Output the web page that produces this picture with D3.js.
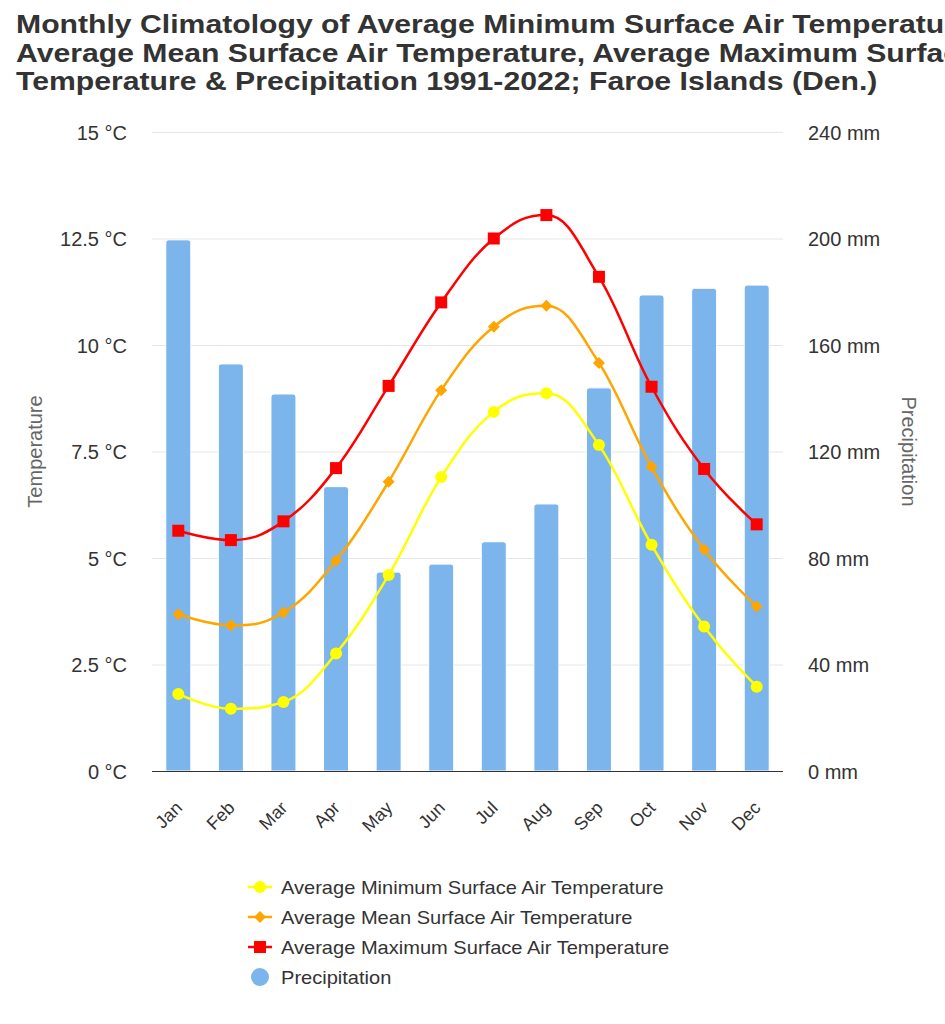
<!DOCTYPE html>
<html><head><meta charset="utf-8">
<script src="https://cdn.jsdelivr.net/npm/d3@7"></script>
<style>body{margin:0;background:#fff;} svg{display:block;font-family:"Liberation Sans",Arial,sans-serif;}</style>
</head><body>
<svg id="chart" width="945" height="1024"></svg>
<script>
const months = ["Jan","Feb","Mar","Apr","May","Jun","Jul","Aug","Sep","Oct","Nov","Dec"];
const tMin = [1.81,1.46,1.62,2.76,4.60,6.90,8.43,8.87,7.65,5.31,3.39,1.98];
const tMean = [3.68,3.42,3.72,4.94,6.79,8.94,10.43,10.92,9.58,7.14,5.20,3.86];
const tMax = [5.64,5.42,5.86,7.11,9.04,11.00,12.50,13.05,11.60,9.02,7.09,5.79];
const precip = [199.5,152.9,141.6,106.8,74.7,77.7,86.1,100.3,143.9,178.8,181.3,182.5];
const tempTicks = [0,2.5,5,7.5,10,12.5,15];
const precTicks = [0,40,80,120,160,200,240];
const titleLines = ["Monthly Climatology of Average Minimum Surface Air Temperature,",
  "Average Mean Surface Air Temperature, Average Maximum Surface Air",
  "Temperature & Precipitation 1991-2022; Faroe Islands (Den.)"];
const seriesNames = ["Average Minimum Surface Air Temperature","Average Mean Surface Air Temperature","Average Maximum Surface Air Temperature","Precipitation"];

const svg = d3.select("#chart");
const L = 152, R = 783, T = 132, B = 771;
const x = d3.scaleBand().domain(months).range([L, R]);
const yT = d3.scaleLinear().domain([0,15]).range([B, T]);
const yP = d3.scaleLinear().domain([0,240]).range([B, T]);

// title (horizontally scaled to match reference width)
const tt = svg.append("g").selectAll("text").data(titleLines).join("text")
  .attr("font-size", 26).attr("font-weight", "bold").attr("fill", "#333").text(d=>d);
const w3 = tt.nodes()[2].getComputedTextLength();
const sxT = 862 / w3;
tt.attr("transform", (d,i)=>`translate(16,${33 + i*28.7}) scale(${sxT},1)`);

// grid
svg.append("g").selectAll("line").data(tempTicks.slice(1)).join("line")
  .attr("x1", L).attr("x2", R).attr("y1", d=>yT(d)+0.5).attr("y2", d=>yT(d)+0.5)
  .attr("stroke", "#e6e6e6").attr("stroke-width", 1);

// left axis labels
const gl = svg.append("g").attr("transform", `translate(${L-25},0)`)
  .call(d3.axisLeft(yT).tickValues(tempTicks).tickSize(0).tickFormat(d=>d+" °C"));
gl.select(".domain").remove();
gl.selectAll("text").attr("font-size", 20).attr("fill", "#333").attr("font-family","Liberation Sans,Arial,sans-serif").attr("dy","0.35em").attr("x",0);

const gr = svg.append("g").attr("transform", `translate(808,0)`)
  .call(d3.axisRight(yP).tickValues(precTicks).tickSize(0).tickFormat(d=>d+" mm"));
gr.select(".domain").remove();
gr.selectAll("text").attr("font-size", 20).attr("fill", "#333").attr("font-family","Liberation Sans,Arial,sans-serif").attr("dy","0.35em").attr("x",0);

// axis titles
svg.append("text").attr("transform", `translate(42,${(T+B)/2}) rotate(-90)`)
  .attr("text-anchor","middle").attr("font-size",20).attr("fill","#666").text("Temperature");
svg.append("text").attr("transform", `translate(902,${(T+B)/2}) rotate(90)`)
  .attr("text-anchor","middle").attr("font-size",20).attr("fill","#666").text("Precipitation");

// bars with rounded top
const bw = 25, rr = 3;
svg.append("g").selectAll("path").data(precip).join("path")
  .attr("d", (d,i)=>{
    const cx = x(months[i]) + x.bandwidth()/2, x0 = cx - bw/2, x1 = cx + bw/2, y0 = yP(d), yb = B;
    const p = d3.path();
    p.moveTo(x0, yb); p.lineTo(x0, y0+rr); p.quadraticCurveTo(x0, y0, x0+rr, y0);
    p.lineTo(x1-rr, y0); p.quadraticCurveTo(x1, y0, x1, y0+rr); p.lineTo(x1, yb); p.closePath();
    return p.toString();
  })
  .attr("fill", "#7cb5ec").attr("stroke","#fff").attr("stroke-width",1);

// x axis baseline
svg.append("line").attr("x1", L).attr("x2", R).attr("y1", B+0.5).attr("y2", B+0.5)
  .attr("stroke", "#333").attr("stroke-width", 1);

// x labels
const gx = svg.append("g").attr("transform", `translate(0,${B})`)
  .call(d3.axisBottom(x).tickSize(0));
gx.select(".domain").remove();
gx.selectAll("text").attr("font-size", 18).attr("fill", "#333").attr("font-family","Liberation Sans,Arial,sans-serif")
  .attr("text-anchor","end").attr("dy",0).attr("y",0)
  .attr("transform","translate(5,38) rotate(-45)");

// highcharts-like spline
function spline(pts){
  const p = d3.path();
  const rc = [];
  pts.forEach((pt,i)=>{
    const [px,py] = pt;
    let lcx = px, lcy = py, rcx, rcy;
    const last = pts[i-1], next = pts[i+1];
    if (last && next){
      const sm = 1.5, den = 2.5;
      lcx = (sm*px + last[0])/den; lcy = (sm*py + last[1])/den;
      rcx = (sm*px + next[0])/den; rcy = (sm*py + next[1])/den;
      const corr = ((rcy - lcy)*(rcx - px))/(rcx - lcx) + py - rcy;
      lcy += corr; rcy += corr;
      if (lcy > last[1] && lcy > py){ lcy = Math.max(last[1],py); rcy = 2*py - lcy; }
      else if (lcy < last[1] && lcy < py){ lcy = Math.min(last[1],py); rcy = 2*py - lcy; }
      if (rcy > next[1] && rcy > py){ rcy = Math.max(next[1],py); lcy = 2*py - rcy; }
      else if (rcy < next[1] && rcy < py){ rcy = Math.min(next[1],py); lcy = 2*py - rcy; }
      rc[i] = [rcx, rcy];
    }
    if (i===0) p.moveTo(px,py);
    else {
      const lr = rc[i-1] || last;
      p.bezierCurveTo(lr[0], lr[1], lcx, lcy, px, py);
    }
  });
  return p.toString();
}

const series = [
  {vals:tMin, color:"#ffff00", sym:"circle"},
  {vals:tMean, color:"#ffa500", sym:"diamond"},
  {vals:tMax, color:"#ff0000", sym:"square"}
];
function marker(g, sym, cx, cy, color){
  if (sym==="circle") g.append("circle").attr("cx",cx).attr("cy",cy).attr("r",6).attr("fill",color);
  else if (sym==="square") g.append("rect").attr("x",cx-6).attr("y",cy-6).attr("width",12).attr("height",12).attr("fill",color);
  else g.append("path").attr("d",`M${cx},${cy-6}L${cx+6},${cy}L${cx},${cy+6}L${cx-6},${cy}Z`).attr("fill",color);
}
series.forEach(s=>{
  const pts = s.vals.map((v,i)=>[x(months[i])+x.bandwidth()/2, yT(v)]);
  const g = svg.append("g");
  g.append("path").attr("d", spline(pts)).attr("fill","none").attr("stroke",s.color).attr("stroke-width",2.5);
  pts.forEach(p=>marker(g, s.sym, p[0], p[1], s.color));
});

// legend
const lg = svg.append("g");
const lt = [];
seriesNames.forEach((n,i)=>{
  const y = 887 + i*30;
  if (i<3){
    lg.append("line").attr("x1",248).attr("x2",272).attr("y1",y).attr("y2",y).attr("stroke",series[i].color).attr("stroke-width",2.5);
    marker(lg, series[i].sym, 260, y, series[i].color);
  } else {
    lg.append("circle").attr("cx",260).attr("cy",y).attr("r",9).attr("fill","#7cb5ec");
  }
  lt.push(lg.append("text").attr("font-size",18).attr("fill","#333").text(n).attr("data-y", y+7));
});
const sxL = 383 / lt[0].node().getComputedTextLength();
lt.forEach(t=>t.attr("transform", `translate(281,${t.attr("data-y")}) scale(${sxL},1)`));
</script>
</body></html>
